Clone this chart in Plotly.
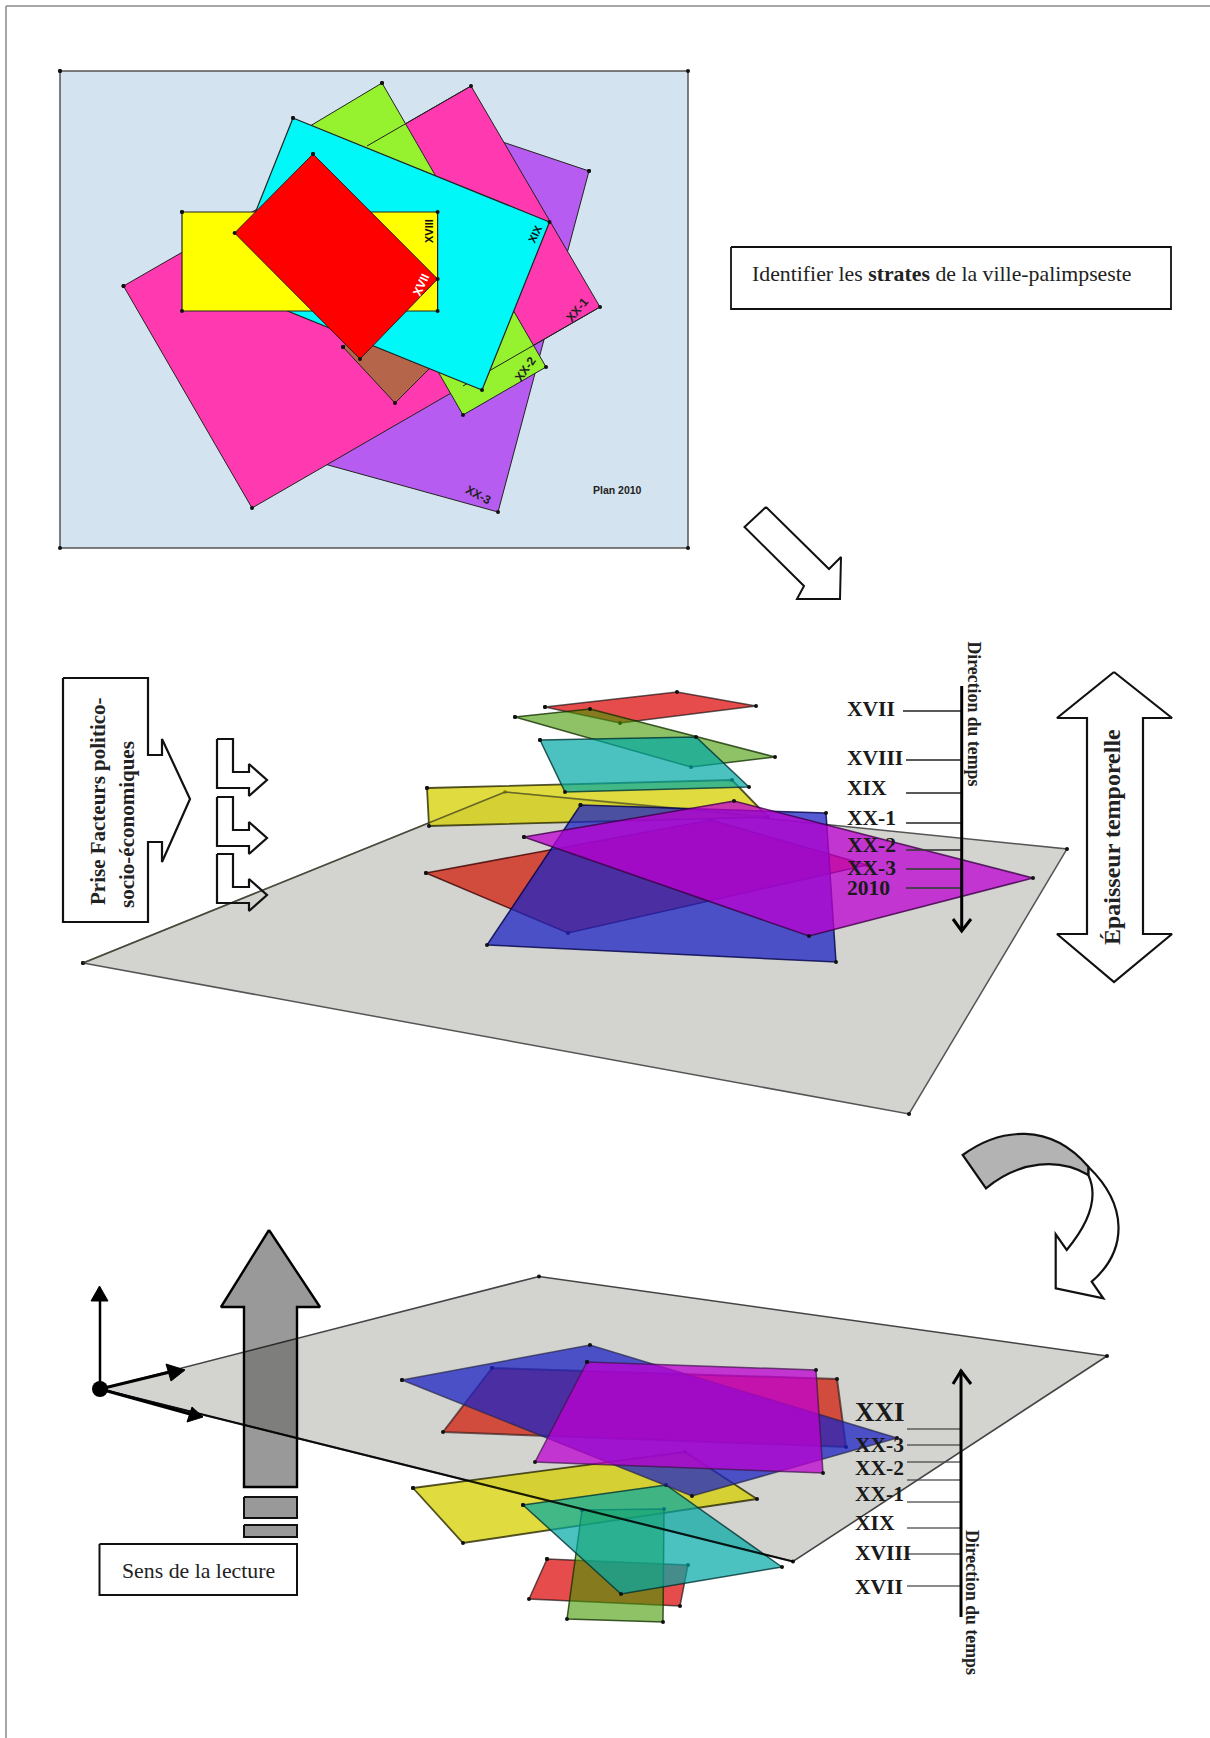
import plotly.graph_objects as go

# ---- Plan 2010 layers (x / y lists, picture coordinates) ----
plan_bg_x = [60, 688, 688, 60]
plan_bg_y = [71, 71, 548, 548]
plan_xx3_x = [589, 498, 310, 443]
plan_xx3_y = [171, 512, 460, 122]
plan_xx1_x = [123.5, 471, 600, 252]
plan_xx1_y = [286, 86, 307, 508]
plan_xx2_x = [382, 546, 463, 300]
plan_xx2_y = [83, 367, 415, 132]
plan_brown_x = [343, 395, 443, 388]
plan_brown_y = [347, 403, 355, 300]
plan_xix_x = [293, 549.5, 482, 226]
plan_xix_y = [118, 222, 390, 286]
plan_xviii_x = [182, 437.6, 437.6, 182]
plan_xviii_y = [212, 212, 311, 311]
plan_xvii_x = [313, 437.6, 360, 234.6]
plan_xvii_y = [154, 279, 359, 233]

# ---- Exploded view ----
ex_ground_x = [83, 505, 1067, 909]
ex_ground_y = [963, 792, 849, 1114]
ex_xvii_x = [545, 677, 756, 620]
ex_xvii_y = [707, 692, 706, 723]
ex_xviii_x = [515, 590, 775, 691]
ex_xviii_y = [717, 709, 757, 767]
ex_xix_x = [540, 696, 749, 565]
ex_xix_y = [740, 737, 787, 792]
ex_xx1_x = [427, 732, 768, 429]
ex_xx1_y = [788, 780, 817, 826]
ex_xx2_x = [426, 711, 867, 568]
ex_xx2_y = [873, 820, 865, 933]
ex_xx3_x = [580.5, 826, 836, 487]
ex_xx3_y = [805, 813, 962, 945]
ex_2010_x = [524, 734, 1033, 809]
ex_2010_y = [837, 801, 878, 936]

# ---- Reading view ----
rd_ground_x = [100, 539, 1107, 793]
rd_ground_y = [1389, 1276.5, 1356, 1561.5]
rd_xvii_x = [547, 688, 680, 529]
rd_xvii_y = [1559, 1565, 1606, 1599]
rd_xviii_x = [582, 664, 663, 567]
rd_xviii_y = [1510, 1509, 1622, 1619]
rd_xix_x = [523, 666, 782, 621]
rd_xix_y = [1505, 1485, 1567, 1594]
rd_xx1_x = [413, 685, 757, 463]
rd_xx1_y = [1488, 1452, 1499, 1543]
rd_xx2_x = [492, 837, 846, 443]
rd_xx2_y = [1368, 1379, 1447, 1432]
rd_xx3_x = [402, 590, 897, 692]
rd_xx3_y = [1380, 1345, 1438, 1496]
rd_xxi_x = [587, 816, 823, 535]
rd_xxi_y = [1362, 1370, 1473, 1462]

# ---- Graduations ----
ex_labels = ["XVII", "XVIII", "XIX", "XX-1", "XX-2", "XX-3", "2010"]
ex_label_y = [709, 758, 788, 818, 845, 868, 888]
ex_tick_y = [711, 760, 793, 823, 850, 869, 888]
ex_tick_x0 = [903, 906, 906, 906, 906, 906, 906]
rd_labels = ["XXI", "XX-3", "XX-2", "XX-1", "XIX", "XVIII", "XVII"]
rd_label_y = [1412, 1445, 1468, 1494, 1523, 1553, 1587]
rd_tick_y = [1429, 1445, 1462, 1480, 1502, 1528, 1554, 1586]

# ---- Arrows & boxes (outlines) ----
arrow1_x = [766, 744.5, 804, 797, 840, 841, 829]
arrow1_y = [507, 527, 586, 599, 599, 557, 569]
factors_x = [63, 148, 148, 162, 162, 190, 162, 162, 148, 148, 63]
factors_y = [678, 678, 755, 755, 739, 799, 862, 842, 842, 922, 922]
small_x = [217, 233, 233, 249, 249, 267, 249, 249, 217]
small_y1 = [739, 739, 772, 772, 764, 780, 796, 788, 788]
small_y2 = [797, 797, 830, 830, 822, 838, 854, 846, 846]
small_y3 = [854, 854, 887, 887, 879, 895, 911, 903, 903]
thick_x = [1114, 1172, 1143, 1143, 1172, 1114, 1057, 1087, 1087, 1057]
thick_y = [672, 718, 718, 934, 934, 982, 934, 934, 718, 718]
up_x = [269, 320, 297, 297, 244, 244, 221]
up_y = [1230, 1307, 1307, 1487, 1487, 1307, 1307]
bar1_x = [244, 297, 297, 244]
bar1_y = [1497, 1497, 1518, 1518]
bar2_y = [1525, 1525, 1537, 1537]
box1_x = [731, 1171, 1171, 731]
box1_y = [247, 247, 309, 309]
box2_x = [99.5, 297, 297, 99.5]
box2_y = [1544, 1544, 1595, 1595]

SERIF = "Liberation Serif"
SANS = "Liberation Sans"
EDGE = "rgba(10,10,10,0.65)"

fig = go.Figure()


def poly(xs, ys, fill, line=EDGE, w=1.5, dots=True, msize=4):
    fig.add_trace(go.Scatter(
        x=list(xs) + [xs[0]], y=list(ys) + [ys[0]],
        mode="lines+markers" if dots else "lines",
        fill="toself", fillcolor=fill,
        line=dict(color=line, width=w),
        marker=dict(color="#111111", size=msize),
        hoverinfo="skip", showlegend=False))


def seg(xs, ys, color="#000000", w=3):
    fig.add_trace(go.Scatter(x=xs, y=ys, mode="lines",
                             line=dict(color=color, width=w),
                             hoverinfo="skip", showlegend=False))


def txt(x, y, s, size, font=SERIF, color="#111111", angle=0, xa="center"):
    fig.add_annotation(x=x, y=y, text=s, showarrow=False, textangle=angle,
                       xref="x", yref="y", xanchor=xa, yanchor="middle",
                       borderpad=0, borderwidth=0,
                       font=dict(family=font, size=size, color=color))


# page frame
seg([6, 6], [6, 1738], "#8a8a8a", 1.5)
seg([6, 1210], [6, 6], "#8a8a8a", 1.5)

# --- top plan
poly(plan_bg_x, plan_bg_y, "#d3e3ef", "#555555", 1.5)
poly(plan_xx3_x, plan_xx3_y, "#b75cf0", "#222222", 1)
poly(plan_xx1_x, plan_xx1_y, "#ff3ab0", "#222222", 1)
poly(plan_xx2_x, plan_xx2_y, "#96f22e", "#222222", 1)
# XX-1 outline seen through XX-2
seg([471, 367], [86, 146], "#222222", 1)
seg([600, 463], [307, 386], "#222222", 1)
poly(plan_brown_x, plan_brown_y, "#b5654a", "#222222", 1)
poly(plan_xix_x, plan_xix_y, "#00f8f8", "#222222", 1.2)
poly(plan_xviii_x, plan_xviii_y, "#ffff00", "#222222", 1.2)
poly(plan_xvii_x, plan_xvii_y, "#ff0000", "#222222", 1)
txt(429, 231, "<b>XVIII</b>", 11, SANS, "#111111", -90)
txt(535, 234, "<b>XIX</b>", 11, SANS, "#111111", -65)
txt(421, 285, "<b>XVII</b>", 12, SANS, "#ffffff", -65)
txt(577, 310, "<b>XX-1</b>", 12, SANS, "#222222", -50)
txt(525.5, 369, "<b>XX-2</b>", 12, SANS, "#222222", -55)
txt(478.5, 495, "<b>XX-3</b>", 12, SANS, "#222222", 28)
txt(617, 490, "<b>Plan 2010</b>", 10.5, SANS, "#222222")

# title box
poly(box1_x, box1_y, "#ffffff", "#111111", 1.8, dots=False)
txt(752, 274, "Identifier les <b>strates</b> de la ville-palimpseste", 21.8, SERIF, "#222222", xa="left")

poly(arrow1_x, arrow1_y, "#ffffff", "#111111", 2, dots=False)

# --- exploded
poly(ex_ground_x, ex_ground_y, "#d3d4d0", "#555555", 1.5)
poly(ex_xx1_x, ex_xx1_y, "rgba(214,208,0,0.75)", "rgba(40,40,0,0.8)", 1.8)
seg([83, 505, 768], [963, 792, 817], "rgba(70,70,50,0.7)", 1.6)
poly(ex_xvii_x, ex_xvii_y, "rgba(219,0,0,0.7)")
poly(ex_xviii_x, ex_xviii_y, "rgba(68,153,0,0.6)", "rgba(20,50,0,0.8)")
poly(ex_xix_x, ex_xix_y, "rgba(0,168,165,0.7)", "rgba(0,50,50,0.8)")
poly(ex_xx2_x, ex_xx2_y, "rgba(210,18,0,0.7)", "rgba(60,0,0,0.8)")
poly(ex_xx3_x, ex_xx3_y, "rgba(30,36,196,0.75)", "rgba(0,0,70,0.8)")
poly(ex_2010_x, ex_2010_y, "rgba(190,0,210,0.75)", "rgba(60,0,70,0.8)")

# exploded: time axis
for t, x0 in zip(ex_tick_y, ex_tick_x0):
    seg([x0, 961.7], [t, t], "rgba(60,60,60,0.85)", 1.8)
seg([961.7, 961.7], [686, 931], "#000000", 3)
seg([953, 961.7, 971], [919, 931, 919], "#000000", 3)
for lab, y in zip(ex_labels, ex_label_y):
    txt(847, y, "<b>" + lab + "</b>", 21.5, SERIF, "#1a1a1a", xa="left")
txt(974, 713.5, "<b>Direction du temps</b>", 17.8, SERIF, "#222222", 90)

poly(thick_x, thick_y, "#ffffff", "#111111", 2.2, dots=False)
txt(1112, 837, "<b>Épaisseur temporelle</b>", 24, SERIF, "#222222", -90)

poly(factors_x, factors_y, "#ffffff", "#111111", 2.2, dots=False)
txt(98, 801, "<b>Prise Facteurs politico-</b>", 21, SERIF, "#222222", -90)
txt(127, 825, "<b>socio-économiques</b>", 21, SERIF, "#222222", -90)
for sy in (small_y1, small_y2, small_y3):
    seg(small_x + [small_x[0]], sy + [sy[0]], "#111111", 2.2)

# --- reading view
poly(rd_ground_x, rd_ground_y, "#d3d4d0", "#444444", 1.6)
poly(rd_xx1_x, rd_xx1_y, "rgba(214,208,0,0.75)", "rgba(40,40,0,0.8)", 1.8)
poly(rd_xvii_x, rd_xvii_y, "rgba(219,0,0,0.7)")
poly(rd_xviii_x, rd_xviii_y, "rgba(68,153,0,0.6)", "rgba(20,50,0,0.8)")
poly(rd_xix_x, rd_xix_y, "rgba(0,168,165,0.7)", "rgba(0,50,50,0.8)")
poly(rd_xx2_x, rd_xx2_y, "rgba(210,18,0,0.7)", "rgba(60,30,30,0.7)", 2)
poly(rd_xx3_x, rd_xx3_y, "rgba(30,36,196,0.75)", "rgba(40,40,70,0.7)", 1.5)
poly(rd_xxi_x, rd_xxi_y, "rgba(190,0,210,0.75)", "rgba(60,20,70,0.7)", 1.5)
seg([rd_ground_x[0], rd_ground_x[3]], [rd_ground_y[0], rd_ground_y[3]], "rgba(0,0,0,0.85)", 2.2)

poly(up_x, up_y, "rgba(0,0,0,0.4)", "#000000", 2.4, dots=False)
poly(bar1_x, bar1_y, "rgba(0,0,0,0.4)", "#111111", 2, dots=False)
poly(bar1_x, bar2_y, "rgba(0,0,0,0.4)", "#111111", 2, dots=False)
poly(box2_x, box2_y, "#ffffff", "#111111", 2, dots=False)
txt(198, 1571, "Sens de la lecture", 21.8, SERIF, "#222222")

# reference axes
seg([100, 100], [1389, 1300], "#000000", 2.5)
seg([100, 170], [1389, 1372], "#000000", 3)
seg([100, 190], [1389, 1414], "#000000", 3)
poly([99.5, 108, 91], [1286, 1301, 1301], "#000000", "#000000", 1, dots=False)
poly([185, 166, 171], [1370, 1364, 1381], "#000000", "#000000", 1, dots=False)
poly([203, 192, 187], [1417, 1407, 1422], "#000000", "#000000", 1, dots=False)
fig.add_trace(go.Scatter(x=[100], y=[1389], mode="markers",
                         marker=dict(color="#000000", size=16),
                         hoverinfo="skip", showlegend=False))

# reading: time axis
for t in rd_tick_y:
    seg([907, 961], [t, t], "rgba(70,70,70,0.85)", 1.6)
seg([961, 961], [1617, 1370], "#000000", 3)
seg([953, 961, 971], [1384, 1371, 1384], "#000000", 3)
for lab, y in zip(rd_labels, rd_label_y):
    txt(855, y, "<b>" + lab + "</b>", 27 if lab == "XXI" else 21.5, SERIF, "#1a1a1a", xa="left")
txt(972, 1602, "<b>Direction du temps</b>", 17.8, SERIF, "#222222", 90)

# curved arrow
fig.add_shape(type="path", xref="x", yref="y", fillcolor="#ffffff",
              line=dict(color="#111111", width=2.2),
              path="M1088.3,1166.7 C1128,1205 1128,1250 1091.7,1281.7 L1103.3,1298.3 L1055.7,1288.3 "
                   "L1055.7,1234.3 L1066.7,1250 C1085,1228 1100,1200 1088.3,1175 Z")
fig.add_shape(type="path", xref="x", yref="y", fillcolor="#b3b3b3",
              line=dict(color="#111111", width=2.2),
              path="M962.7,1155 C1000,1128 1050,1122 1088.3,1166.7 L1088.3,1175 "
                   "C1060,1158 1020,1160 986,1188.3 Z")

fig.update_layout(
    width=1210, height=1738, margin=dict(l=0, r=0, t=0, b=0),
    paper_bgcolor="#ffffff", plot_bgcolor="#ffffff", showlegend=False,
    xaxis=dict(range=[0, 1210], visible=False, fixedrange=True),
    yaxis=dict(range=[1738, 0], visible=False, fixedrange=True),
)
fig.write_html("out.html", config={"displayModeBar": False},
               post_script="document.body.style.margin='0';")
